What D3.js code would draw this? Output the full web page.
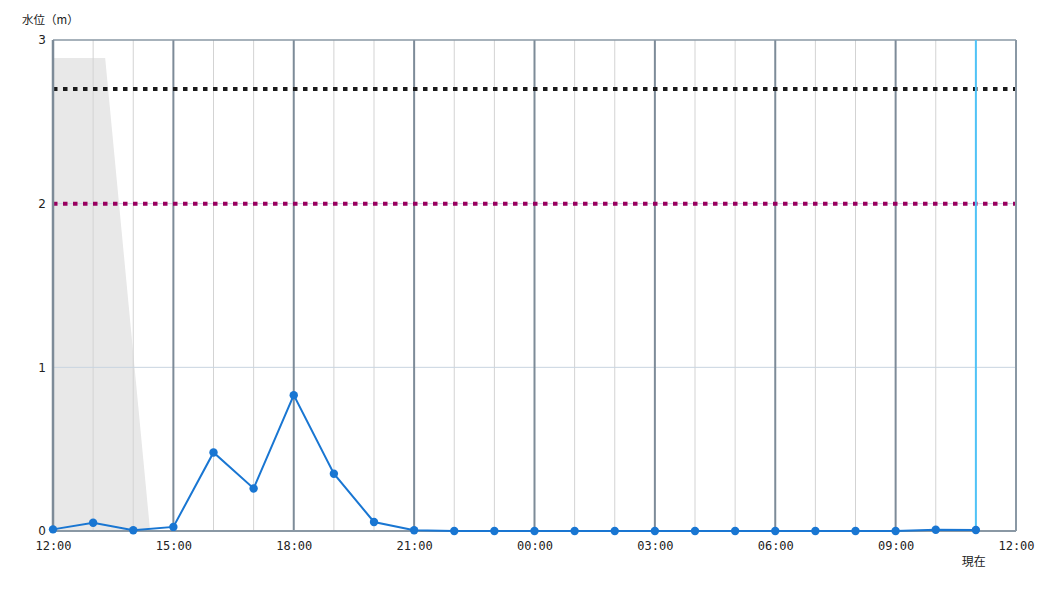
<!DOCTYPE html>
<html><head><meta charset="utf-8">
<script src="https://cdn.jsdelivr.net/npm/d3@7"></script>
<style>body{margin:0;background:#fff}svg{display:block}</style>
</head><body>
<svg id="c" width="1050" height="600"></svg>
<script>
// hours since 12:00
const hours = d3.range(0, 24);
const levels = [0.01,0.05,0.005,0.025,0.48,0.26,0.83,0.35,0.055,0.005,0,0,0,0,0,0,0,0,0,0,0,0,0.008,0.006];
const xTickLabels = ["12:00","15:00","18:00","21:00","00:00","03:00","06:00","09:00","12:00"];
const yTicks = [0,1,2,3];
const shadeH = [0, 1.3, 2.42, 0];
const shadeV = [2.89, 2.89, 0, 0];
const thresholds = [2.7, 2.0];
const thresholdColors = ["#1a1a1a", "#99005f"];
const nowHour = 23;

const svg = d3.select("#c");
const L = 53, R = 1016, T = 40, B = 531;
const x = d3.scaleLinear().domain([0,24]).range([L,R]);
const y = d3.scaleLinear().domain([0,3]).range([B,T]);

// shaded area
svg.append("path")
  .attr("d", d3.line().x((d,i)=>x(d)).y((d,i)=>y(shadeV[i]))(shadeH) + "Z")
  .attr("fill","#e8e8e8");

// minor vertical grid
svg.append("g").selectAll("line").data(d3.range(1,24).filter(h=>h%3!==0)).join("line")
  .attr("x1",d=>x(d)).attr("x2",d=>x(d)).attr("y1",T).attr("y2",B)
  .attr("stroke","#d3d3d3").attr("stroke-width",1);
// horizontal grid
svg.append("g").selectAll("line").data([1,2]).join("line")
  .attr("x1",L).attr("x2",R).attr("y1",d=>y(d)).attr("y2",d=>y(d))
  .attr("stroke","#c8d4e0").attr("stroke-width",1);
// major vertical grid
svg.append("g").selectAll("line").data(d3.range(3,24,3)).join("line")
  .attr("x1",d=>x(d)).attr("x2",d=>x(d)).attr("y1",T).attr("y2",B)
  .attr("stroke","#7d8b98").attr("stroke-width",2);

// thresholds
svg.append("g").selectAll("line").data(thresholds).join("line")
  .attr("x1",L).attr("x2",R).attr("y1",d=>y(d)).attr("y2",d=>y(d))
  .attr("stroke",(d,i)=>thresholdColors[i]).attr("stroke-width",4)
  .attr("stroke-dasharray","4.5,5.5");

// frame
svg.append("line").attr("x1",L).attr("x2",R).attr("y1",T).attr("y2",T).attr("stroke","#8a98a4").attr("stroke-width",1.5);
svg.append("line").attr("x1",R).attr("x2",R).attr("y1",T).attr("y2",B).attr("stroke","#8a98a4").attr("stroke-width",2);
svg.append("line").attr("x1",L).attr("x2",R).attr("y1",B).attr("y2",B).attr("stroke","#8a98a4").attr("stroke-width",2);
svg.append("line").attr("x1",L).attr("x2",L).attr("y1",T).attr("y2",B).attr("stroke","#7d8b98").attr("stroke-width",2.5);

// now line
svg.append("line").attr("x1",x(nowHour)).attr("x2",x(nowHour)).attr("y1",T).attr("y2",B)
  .attr("stroke","#4fc3f7").attr("stroke-width",2);

// data line
svg.append("path").datum(hours)
  .attr("d", d3.line().x(d=>x(d)).y((d,i)=>y(levels[i])))
  .attr("fill","none").attr("stroke","#1976d2").attr("stroke-width",2);
svg.append("g").selectAll("circle").data(hours).join("circle")
  .attr("cx",d=>x(d)).attr("cy",(d,i)=>y(levels[i])).attr("r",4.2).attr("fill","#1976d2");

// x axis labels
const xa = d3.axisBottom(x).tickValues(d3.range(0,25,3)).tickSize(0).tickFormat((d,i)=>xTickLabels[i]);
const gx = svg.append("g").attr("transform",`translate(0,${B})`).call(xa);
gx.select(".domain").remove();
gx.selectAll("text").attr("dy",0).attr("y",19).attr("font-family","DejaVu Sans Mono").attr("font-size",12).attr("fill","#222");

// y axis labels
const ya = d3.axisLeft(y).tickValues(yTicks).tickSize(0).tickFormat(d3.format("d"));
const gy = svg.append("g").attr("transform",`translate(${L-7},0)`).call(ya);
gy.select(".domain").remove();
gy.selectAll("text").attr("x",0).attr("font-family","DejaVu Sans").attr("font-size",12).attr("fill","#222");

svg.append("text").attr("x",22).attr("y",24).attr("font-family","Noto Sans CJK JP").attr("font-size",11.5).attr("fill","#222").text("水位（m）");
svg.append("text").attr("x",x(nowHour)-2).attr("y",566).attr("text-anchor","middle").attr("font-family","Noto Sans CJK JP").attr("font-size",12).attr("fill","#222").text("現在");
</script>
</body></html>
